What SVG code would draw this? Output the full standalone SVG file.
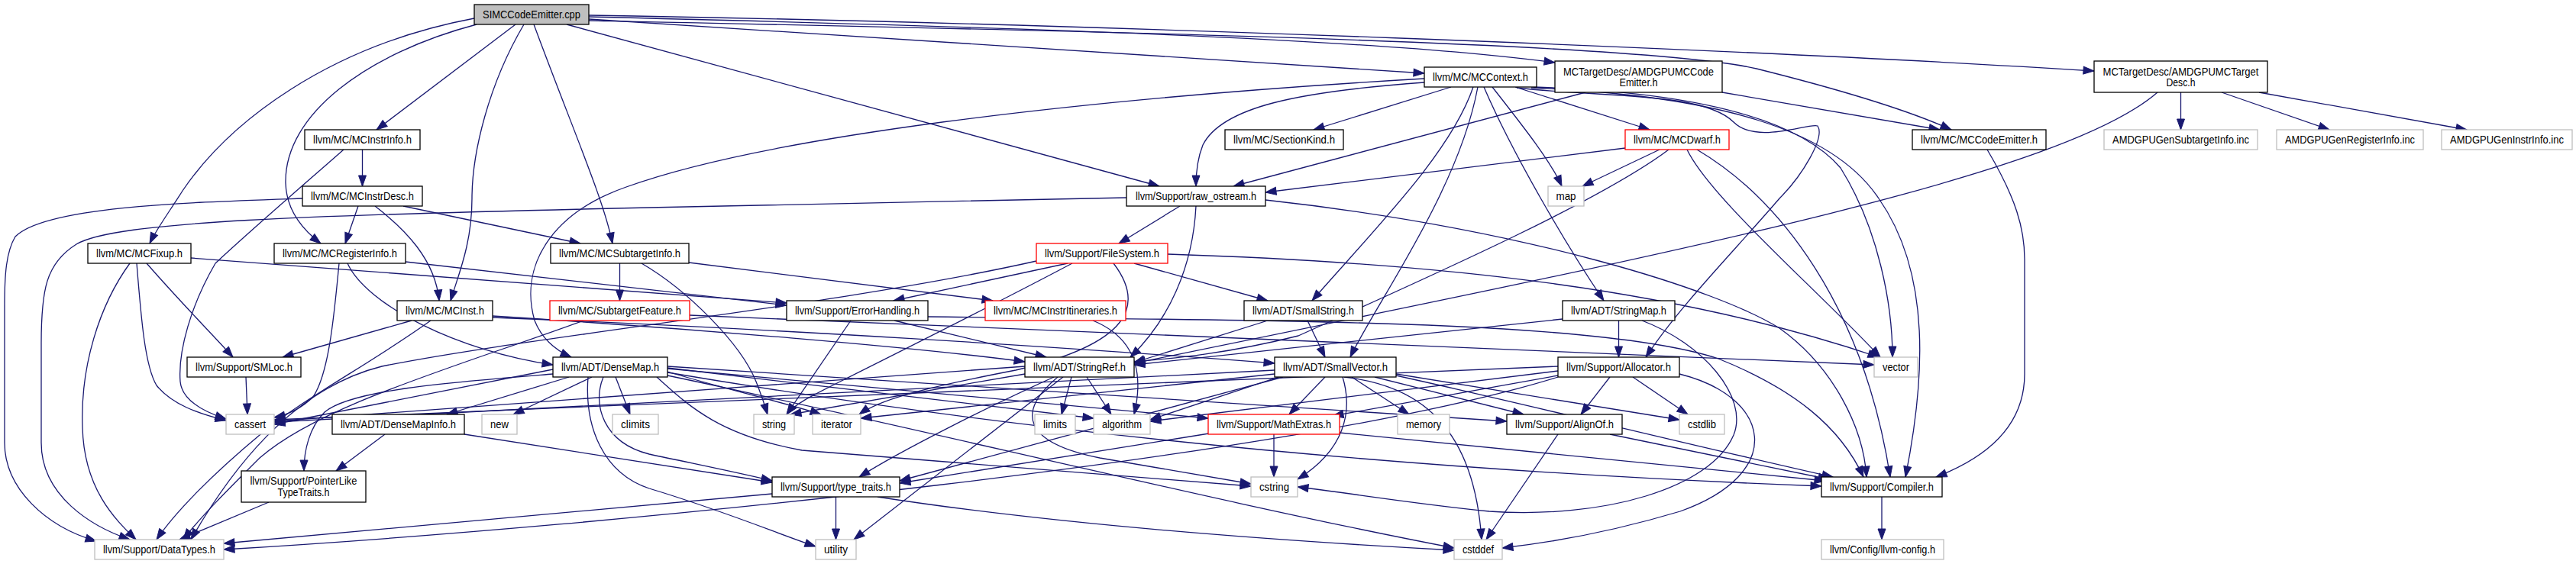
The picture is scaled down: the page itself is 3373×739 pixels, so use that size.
<svg xmlns="http://www.w3.org/2000/svg" width="3373" height="739" viewBox="0 0 3373 739">
<style>
.n rect{fill:#fff;stroke:#000;stroke-width:1.3}
.g rect{stroke:#bfbfbf}
.r rect{stroke:#ff0000}
.root rect{fill:#bfbfbf}
text{font-family:"Liberation Sans",Arial,sans-serif;font-size:15px;text-anchor:middle;fill:#000}
#edges path{fill:none;stroke:#191970;stroke-width:1.3;marker-end:url(#a)}
</style>
<defs>
<marker id="a" markerUnits="userSpaceOnUse" markerWidth="16" markerHeight="12" refX="14" refY="5" orient="auto" overflow="visible"><path d="M0,0 L14,5 L0,10 z" fill="#191970" stroke="#191970" stroke-width="1"/></marker>
</defs>
<rect width="3373" height="739" fill="#fff"/>
<g id="edges">
<path d="M621,24 C430,60 300,160 239,250 C222,277 205,300 196,319"/>
<path d="M624,32 C480,70 372,150 374,240 C375,275 395,300 420,319"/>
<path d="M675,32 L493,170"/>
<path d="M686,32 C640,110 618,200 618,260 C618,320 600,360 590,394"/>
<path d="M699,32 C750,170 790,260 802,319"/>
<path d="M742,32 L1518,244"/>
<path d="M771,25 L1865,96"/>
<path d="M771,22 C1300,35 1800,50 2036,82"/>
<path d="M771,20 C1400,30 2300,65 2742,93"/>
<path d="M771,27 C1400,40 2150,55 2300,90 C2420,120 2500,145 2555,170"/>
<path d="M474.5,196 L474.5,244"/>
<path d="M450,196 C400,240 330,300 282,345 C250,400 233,460 236,500 C238,522 262,538 296,549"/>
<path d="M469,270 L452,319"/>
<path d="M491,270 C530,300 570,340 575,394"/>
<path d="M528,270 L760,319"/>
<path d="M396,260 C250,265 60,270 20,310 C8,330 6,360 6,400 L6,580 C6,640 60,690 126,709"/>
<path d="M250,338 L1030,397"/>
<path d="M192,345 C240,400 280,440 305,468"/>
<path d="M179,345 C185,420 190,480 205,505 C225,530 260,542 296,551"/>
<path d="M170,345 C130,400 105,480 108,560 C110,640 150,680 178,707"/>
<path d="M455,345 C480,400 600,460 724,478"/>
<path d="M531,343 L1030,400"/>
<path d="M444,345 C437,420 430,490 410,520 C395,535 378,543 359,547"/>
<path d="M811.5,345 L811.5,394"/>
<path d="M902,344 L1300,394"/>
<path d="M840,345 C900,380 970,450 990,500 C998,520 1002,533 1005,543"/>
<path d="M539,420 L370,468"/>
<path d="M564,420 C480,480 400,520 340,570 C280,620 230,670 205,707"/>
<path d="M645,414 C900,430 1200,455 1342,474"/>
<path d="M645,416 C1000,430 1400,455 1669,476"/>
<path d="M764,420 C600,480 420,530 340,600 C300,640 260,680 240,707"/>
<path d="M903,413 L2454,478"/>
<path d="M322,494 L324,543"/>
<path d="M745,494 L585,543"/>
<path d="M775,494 L672,543"/>
<path d="M806,494 L825,543"/>
<path d="M724,484 L359,556"/>
<path d="M724,490 C600,500 460,510 425,540 C405,560 398,590 398,617"/>
<path d="M790,494 C775,530 790,580 850,595 C920,610 970,620 1011,630"/>
<path d="M770,494 C765,560 790,620 850,640 C950,670 1020,700 1068,716"/>
<path d="M874,482 L1432,548"/>
<path d="M874,487 C950,510 1030,528 1075,543"/>
<path d="M860,494 C900,530 940,570 1050,590 C1300,610 1500,625 1638,637"/>
<path d="M874,492 C1200,560 1600,660 1904,718"/>
<path d="M874,480 L1973,552"/>
<path d="M874,488 C1300,560 1800,615 2385,637"/>
<path d="M874,483 L1582,548"/>
<path d="M504,569 L440,617"/>
<path d="M608,569 L1011,632"/>
<path d="M352,658 L235,707"/>
<path d="M1094.5,651 L1094.5,707"/>
<path d="M1011,647 L293,712"/>
<path d="M1149,651 C1400,690 1700,710 1904,721"/>
<path d="M1380,494 C1300,530 1180,590 1125,625"/>
<path d="M1403,494 L1390,543"/>
<path d="M1423,494 L1455,543"/>
<path d="M1342,480 L359,552"/>
<path d="M1385,494 C1330,540 1340,580 1440,600 C1530,615 1600,628 1638,634"/>
<path d="M1342,490 L1035,543"/>
<path d="M1392,494 L1118,707"/>
<path d="M1545,270 L1465,319"/>
<path d="M1566,270 C1562,350 1530,420 1480,468"/>
<path d="M1475,259 L850,272 C400,282 150,290 100,320 C60,345 54,380 54,450 L54,580 C54,650 120,690 170,707"/>
<path d="M1657,262 C2000,300 2250,380 2330,430 C2400,480 2440,560 2444,625"/>
<path d="M1485,345 L1660,394"/>
<path d="M1398,345 L1170,394"/>
<path d="M1357,342 C1100,400 700,440 500,480 C380,510 300,620 250,707"/>
<path d="M1404,345 C1300,400 1160,470 1100,500 C1060,520 1040,530 1030,543"/>
<path d="M1458,345 C1500,400 1480,450 1330,485 C1200,510 1150,525 1125,543"/>
<path d="M1529,333 C1900,345 2200,380 2460,468"/>
<path d="M1171,420 L1370,468"/>
<path d="M1114,420 L1030,543"/>
<path d="M1215,415 C1700,420 2100,420 2250,470 C2350,510 2410,560 2440,625"/>
<path d="M1431,420 C1480,440 1500,480 1485,543"/>
<path d="M1712,420 L1735,468"/>
<path d="M1660,420 L1485,475"/>
<path d="M1800,494 L1995,543"/>
<path d="M1770,494 L1845,543"/>
<path d="M1828,490 L2199,550"/>
<path d="M1735,494 L1688,543"/>
<path d="M1760,494 C1860,505 1930,560 1940,707"/>
<path d="M1758,494 C1772,540 1760,590 1699,628"/>
<path d="M1680,494 L1178,630"/>
<path d="M1680,492 L1506,550"/>
<path d="M1669,485 L359,553"/>
<path d="M1669,490 L1127,548"/>
<path d="M1828,492 C2000,530 2200,580 2400,625"/>
<path d="M2119.5,420 L2119.5,468"/>
<path d="M2046,418 L1485,478"/>
<path d="M2150,420 C2230,450 2290,520 2270,570 C2240,640 2100,680 1950,670 C1850,660 1760,645 1699,638"/>
<path d="M2108,494 L2070,543"/>
<path d="M2138,494 L2210,543"/>
<path d="M2040,492 L1745,545"/>
<path d="M2040,480 L359,550"/>
<path d="M2040,486 L1506,552"/>
<path d="M2199,490 C2320,520 2340,620 2200,670 C2100,700 2020,712 1967,718"/>
<path d="M2040,494 C1700,600 800,690 293,720"/>
<path d="M1668,569 L1668,625"/>
<path d="M1583,568 L1178,633"/>
<path d="M1754,567 L2390,630"/>
<path d="M2040,569 L1946,707"/>
<path d="M2108,569 L2395,628"/>
<path d="M2464,651 L2464,707"/>
<path d="M1900,114 L1720,170"/>
<path d="M1865,108 C1700,120 1600,140 1575,190 C1567,210 1566,230 1566,244"/>
<path d="M1865,103 C1400,130 1000,180 820,245 C720,280 680,350 700,420 C710,445 730,460 748,468"/>
<path d="M1929,114 C1900,200 1800,300 1718,394"/>
<path d="M1935,114 C1910,250 1800,400 1768,468"/>
<path d="M1943,114 C1980,200 2050,320 2100,394"/>
<path d="M1954,114 C1990,160 2030,210 2045,244"/>
<path d="M1984,114 L2160,170"/>
<path d="M1986,115 C2100,128 2230,120 2270,160 C2300,190 2370,160 2380,165 C2390,180 2360,230 2330,260 C2270,330 2200,400 2155,468"/>
<path d="M2005,115 C2250,125 2400,170 2460,260 C2530,360 2520,500 2495,625"/>
<path d="M2008,114 C2200,120 2350,150 2410,220 C2460,300 2478,400 2478,468"/>
<path d="M2173,196 L2072,244"/>
<path d="M2128,194 L1657,252"/>
<path d="M2185,196 C2100,260 1900,350 1700,440 C1600,465 1530,470 1485,474"/>
<path d="M2209,196 C2240,260 2380,380 2462,468"/>
<path d="M2222,196 C2330,260 2440,400 2475,625"/>
<path d="M2602,196 C2640,260 2651,300 2651,340 L2651,490 C2651,560 2600,600 2535,625"/>
<path d="M2255,121 L2540,170"/>
<path d="M2076,121 L1615,244"/>
<path d="M2855.5,121 L2855.5,170"/>
<path d="M2909,121 L3050,170"/>
<path d="M2958,121 L3230,170"/>
<path d="M2825,121 C2700,230 2200,330 1485,476"/>
</g>
<g id="n0" class="n root"><rect x="621" y="6" width="150" height="26"/><text x="696" y="24" textLength="128" lengthAdjust="spacingAndGlyphs">SIMCCodeEmitter.cpp</text></g>
<g id="n1" class="n"><rect x="1865" y="88" width="147" height="26"/><text x="1938.5" y="106" textLength="125" lengthAdjust="spacingAndGlyphs">llvm/MC/MCContext.h</text></g>
<g id="n2" class="n"><rect x="2036" y="80" width="219" height="41"/><text x="2145.5" y="98.5" textLength="197" lengthAdjust="spacingAndGlyphs">MCTargetDesc/AMDGPUMCCode</text><text x="2145.5" y="112.5" textLength="50" lengthAdjust="spacingAndGlyphs">Emitter.h</text></g>
<g id="n3" class="n"><rect x="2742" y="80" width="227" height="41"/><text x="2855.5" y="98.5" textLength="204" lengthAdjust="spacingAndGlyphs">MCTargetDesc/AMDGPUMCTarget</text><text x="2855.5" y="112.5" textLength="38" lengthAdjust="spacingAndGlyphs">Desc.h</text></g>
<g id="n4" class="n"><rect x="399" y="170" width="151" height="26"/><text x="474.5" y="188" textLength="129" lengthAdjust="spacingAndGlyphs">llvm/MC/MCInstrInfo.h</text></g>
<g id="n5" class="n"><rect x="1604" y="170" width="155" height="26"/><text x="1681.5" y="188" textLength="133" lengthAdjust="spacingAndGlyphs">llvm/MC/SectionKind.h</text></g>
<g id="n6" class="n r"><rect x="2128" y="170" width="136" height="26"/><text x="2196" y="188" textLength="114" lengthAdjust="spacingAndGlyphs">llvm/MC/MCDwarf.h</text></g>
<g id="n7" class="n"><rect x="2504" y="170" width="175" height="26"/><text x="2591.5" y="188" textLength="153" lengthAdjust="spacingAndGlyphs">llvm/MC/MCCodeEmitter.h</text></g>
<g id="n8" class="n g"><rect x="2755" y="170" width="201" height="26"/><text x="2855.5" y="188" textLength="179" lengthAdjust="spacingAndGlyphs">AMDGPUGenSubtargetInfo.inc</text></g>
<g id="n9" class="n g"><rect x="2981" y="170" width="192" height="26"/><text x="3077" y="188" textLength="170" lengthAdjust="spacingAndGlyphs">AMDGPUGenRegisterInfo.inc</text></g>
<g id="n10" class="n g"><rect x="3197" y="170" width="171" height="26"/><text x="3282.5" y="188" textLength="149" lengthAdjust="spacingAndGlyphs">AMDGPUGenInstrInfo.inc</text></g>
<g id="n11" class="n"><rect x="396" y="244" width="157" height="26"/><text x="474.5" y="262" textLength="135" lengthAdjust="spacingAndGlyphs">llvm/MC/MCInstrDesc.h</text></g>
<g id="n12" class="n"><rect x="1475" y="244" width="182" height="26"/><text x="1566" y="262" textLength="158" lengthAdjust="spacingAndGlyphs">llvm/Support/raw_ostream.h</text></g>
<g id="n13" class="n g"><rect x="2027" y="244" width="47" height="26"/><text x="2050.5" y="262" textLength="26" lengthAdjust="spacingAndGlyphs">map</text></g>
<g id="n14" class="n"><rect x="115" y="319" width="135" height="26"/><text x="182.5" y="337" textLength="113" lengthAdjust="spacingAndGlyphs">llvm/MC/MCFixup.h</text></g>
<g id="n15" class="n"><rect x="359" y="319" width="172" height="26"/><text x="445" y="337" textLength="150" lengthAdjust="spacingAndGlyphs">llvm/MC/MCRegisterInfo.h</text></g>
<g id="n16" class="n"><rect x="721" y="319" width="181" height="26"/><text x="811.5" y="337" textLength="159" lengthAdjust="spacingAndGlyphs">llvm/MC/MCSubtargetInfo.h</text></g>
<g id="n17" class="n r"><rect x="1357" y="319" width="172" height="26"/><text x="1443" y="337" textLength="150" lengthAdjust="spacingAndGlyphs">llvm/Support/FileSystem.h</text></g>
<g id="n18" class="n"><rect x="520" y="394" width="125" height="26"/><text x="582.5" y="412" textLength="103" lengthAdjust="spacingAndGlyphs">llvm/MC/MCInst.h</text></g>
<g id="n19" class="n r"><rect x="720" y="394" width="183" height="26"/><text x="811.5" y="412" textLength="161" lengthAdjust="spacingAndGlyphs">llvm/MC/SubtargetFeature.h</text></g>
<g id="n20" class="n"><rect x="1030" y="394" width="185" height="26"/><text x="1122.5" y="412" textLength="163" lengthAdjust="spacingAndGlyphs">llvm/Support/ErrorHandling.h</text></g>
<g id="n21" class="n r"><rect x="1290" y="394" width="184" height="26"/><text x="1382" y="412" textLength="162" lengthAdjust="spacingAndGlyphs">llvm/MC/MCInstrItineraries.h</text></g>
<g id="n22" class="n"><rect x="1629" y="394" width="155" height="26"/><text x="1706.5" y="412" textLength="133" lengthAdjust="spacingAndGlyphs">llvm/ADT/SmallString.h</text></g>
<g id="n23" class="n"><rect x="2046" y="394" width="147" height="26"/><text x="2119.5" y="412" textLength="125" lengthAdjust="spacingAndGlyphs">llvm/ADT/StringMap.h</text></g>
<g id="n24" class="n"><rect x="245" y="468" width="149" height="26"/><text x="319.5" y="486" textLength="127" lengthAdjust="spacingAndGlyphs">llvm/Support/SMLoc.h</text></g>
<g id="n25" class="n"><rect x="724" y="468" width="150" height="26"/><text x="799" y="486" textLength="128" lengthAdjust="spacingAndGlyphs">llvm/ADT/DenseMap.h</text></g>
<g id="n26" class="n"><rect x="1342" y="468" width="143" height="26"/><text x="1413.5" y="486" textLength="121" lengthAdjust="spacingAndGlyphs">llvm/ADT/StringRef.h</text></g>
<g id="n27" class="n"><rect x="1669" y="468" width="159" height="26"/><text x="1748.5" y="486" textLength="137" lengthAdjust="spacingAndGlyphs">llvm/ADT/SmallVector.h</text></g>
<g id="n28" class="n"><rect x="2040" y="468" width="159" height="26"/><text x="2119.5" y="486" textLength="137" lengthAdjust="spacingAndGlyphs">llvm/Support/Allocator.h</text></g>
<g id="n29" class="n g"><rect x="2454" y="468" width="57" height="26"/><text x="2482.5" y="486" textLength="35" lengthAdjust="spacingAndGlyphs">vector</text></g>
<g id="n30" class="n g"><rect x="296" y="543" width="63" height="26"/><text x="327.5" y="561" textLength="41" lengthAdjust="spacingAndGlyphs">cassert</text></g>
<g id="n31" class="n"><rect x="435" y="543" width="173" height="26"/><text x="521.5" y="561" textLength="151" lengthAdjust="spacingAndGlyphs">llvm/ADT/DenseMapInfo.h</text></g>
<g id="n32" class="n g"><rect x="631" y="543" width="46" height="26"/><text x="654" y="561" textLength="24" lengthAdjust="spacingAndGlyphs">new</text></g>
<g id="n33" class="n g"><rect x="802" y="543" width="60" height="26"/><text x="832" y="561" textLength="38" lengthAdjust="spacingAndGlyphs">climits</text></g>
<g id="n34" class="n g"><rect x="987" y="543" width="53" height="26"/><text x="1013.5" y="561" textLength="31" lengthAdjust="spacingAndGlyphs">string</text></g>
<g id="n35" class="n g"><rect x="1064" y="543" width="63" height="26"/><text x="1095.5" y="561" textLength="41" lengthAdjust="spacingAndGlyphs">iterator</text></g>
<g id="n36" class="n g"><rect x="1355" y="543" width="53" height="26"/><text x="1381.5" y="561" textLength="31" lengthAdjust="spacingAndGlyphs">limits</text></g>
<g id="n37" class="n g"><rect x="1432" y="543" width="74" height="26"/><text x="1469" y="561" textLength="52" lengthAdjust="spacingAndGlyphs">algorithm</text></g>
<g id="n38" class="n r"><rect x="1582" y="543" width="172" height="26"/><text x="1668" y="561" textLength="150" lengthAdjust="spacingAndGlyphs">llvm/Support/MathExtras.h</text></g>
<g id="n39" class="n g"><rect x="1830" y="543" width="68" height="26"/><text x="1864" y="561" textLength="46" lengthAdjust="spacingAndGlyphs">memory</text></g>
<g id="n40" class="n"><rect x="1973" y="543" width="151" height="26"/><text x="2048.5" y="561" textLength="129" lengthAdjust="spacingAndGlyphs">llvm/Support/AlignOf.h</text></g>
<g id="n41" class="n g"><rect x="2199" y="543" width="59" height="26"/><text x="2228.5" y="561" textLength="37" lengthAdjust="spacingAndGlyphs">cstdlib</text></g>
<g id="n42" class="n"><rect x="316" y="617" width="163" height="41"/><text x="397.5" y="635" textLength="140" lengthAdjust="spacingAndGlyphs">llvm/Support/PointerLike</text><text x="397.5" y="649.5" textLength="68" lengthAdjust="spacingAndGlyphs">TypeTraits.h</text></g>
<g id="n43" class="n"><rect x="1011" y="625" width="167" height="26"/><text x="1094.5" y="643" textLength="145" lengthAdjust="spacingAndGlyphs">llvm/Support/type_traits.h</text></g>
<g id="n44" class="n g"><rect x="1638" y="625" width="61" height="26"/><text x="1668.5" y="643" textLength="39" lengthAdjust="spacingAndGlyphs">cstring</text></g>
<g id="n45" class="n"><rect x="2385" y="625" width="158" height="26"/><text x="2464" y="643" textLength="136" lengthAdjust="spacingAndGlyphs">llvm/Support/Compiler.h</text></g>
<g id="n46" class="n g"><rect x="124" y="707" width="169" height="26"/><text x="208.5" y="725" textLength="147" lengthAdjust="spacingAndGlyphs">llvm/Support/DataTypes.h</text></g>
<g id="n47" class="n g"><rect x="1068" y="707" width="53" height="26"/><text x="1094.5" y="725" textLength="31" lengthAdjust="spacingAndGlyphs">utility</text></g>
<g id="n48" class="n g"><rect x="1904" y="707" width="63" height="26"/><text x="1935.5" y="725" textLength="41" lengthAdjust="spacingAndGlyphs">cstddef</text></g>
<g id="n49" class="n g"><rect x="2385" y="707" width="160" height="26"/><text x="2465" y="725" textLength="138" lengthAdjust="spacingAndGlyphs">llvm/Config/llvm-config.h</text></g>
</svg>
